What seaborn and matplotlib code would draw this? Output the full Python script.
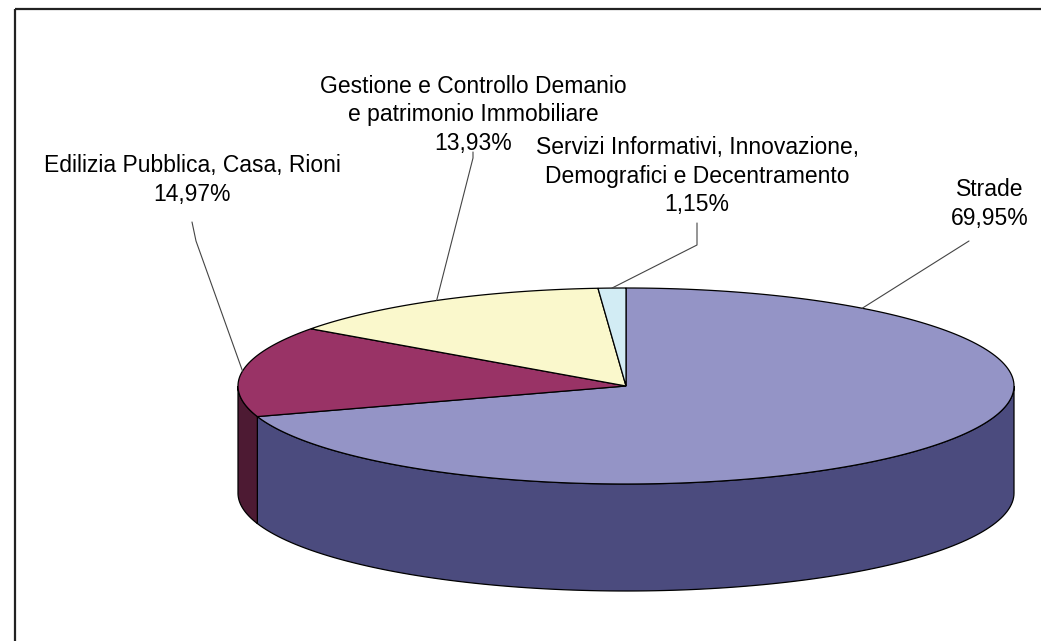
import numpy as np
import matplotlib.pyplot as plt
import seaborn as sns
from matplotlib.patches import Polygon, Rectangle

# data (Excel style 3D pie, clockwise from 12 o'clock)
labels = ["Strade",
          "Edilizia Pubblica, Casa, Rioni",
          "Gestione e Controllo Demanio\ne patrimonio Immobiliare",
          "Servizi Informativi, Innovazione,\nDemografici e Decentramento"]
shares = [69.95, 14.97, 13.93, 1.15]
pct_labels = ["69,95%", "14,97%", "13,93%", "1,15%"]
top_colors = ["#9494C6", "#993366", "#FAF8CC", "#D2ECF4"]
side_colors = ["#4B4B7E", "#4D1A33", "#9C9A70", "#7FA0AA"]

# label layout (pixels) and leader line start
label_pos = [(990, 204), (192, 180), (473, 115), (697, 176)]
leader_from = [[(969, 241)],
               [(192, 222), (196, 241)],
               [(473, 152), (473, 158)],
               [(697, 223), (697, 245)]]
leader_deg = [52.5, None, None, None]  # None -> middle of the slice

sns.set_theme(style="white")
plt.rcParams['font.family'] = ['Liberation Sans', 'DejaVu Sans']

fig = plt.figure(figsize=(10.41, 6.41), dpi=100)
ax = fig.add_axes([0, 0, 1, 1])
ax.set_xlim(0, 1041)
ax.set_ylim(641, 0)
ax.axis('off')

cx, cy, rx, ry, depth = 626, 386, 388, 98, 107


def ell(deg, dy=0.0):
    t = np.radians(deg)
    return np.column_stack([cx + rx * np.cos(t), cy - ry * np.sin(t) + dy])


fracs = np.array(shares) / np.sum(shares)
ends = 90 - 360 * np.cumsum(fracs)
starts = np.r_[90, ends[:-1]]

# side walls (only the front half of the cylinder is visible)
for s, e, col in zip(starts, ends, side_colors):
    for lo_f, hi_f in [(-180, 0), (-540, -360)]:
        lo, hi = max(e, lo_f), min(s, hi_f)
        if hi <= lo:
            continue
        t = np.linspace(lo, hi, 120)
        poly = np.vstack([ell(t), ell(t[::-1], depth)])
        ax.add_patch(Polygon(poly, closed=True, facecolor=col,
                             edgecolor='black', lw=0.9, zorder=2))

# top faces
for s, e, col in zip(starts, ends, top_colors):
    t = np.linspace(s, e, 200)
    poly = np.vstack([[cx, cy], ell(t)])
    ax.add_patch(Polygon(poly, closed=True, facecolor=col,
                         edgecolor='black', lw=0.9, zorder=3))

# labels and leader lines
for i, (lab, pct) in enumerate(zip(labels, pct_labels)):
    x, y = label_pos[i]
    ax.text(x, y, lab + "\n" + pct, ha='center', va='center', fontsize=16.5,
            color='black', linespacing=1.32, zorder=5)
    deg = leader_deg[i] if leader_deg[i] is not None else (starts[i] + ends[i]) / 2
    anchor = ell(np.array([deg]))[0]
    pts = np.array(leader_from[i] + [tuple(anchor)])
    ax.plot(pts[:, 0], pts[:, 1], color='#444444', lw=0.8, zorder=4)

# chart area frame
ax.add_patch(Rectangle((15, 9), 1100, 700, fill=False, edgecolor='#222222',
                       lw=1.6, zorder=6))

fig.savefig("out.png", dpi=100)
